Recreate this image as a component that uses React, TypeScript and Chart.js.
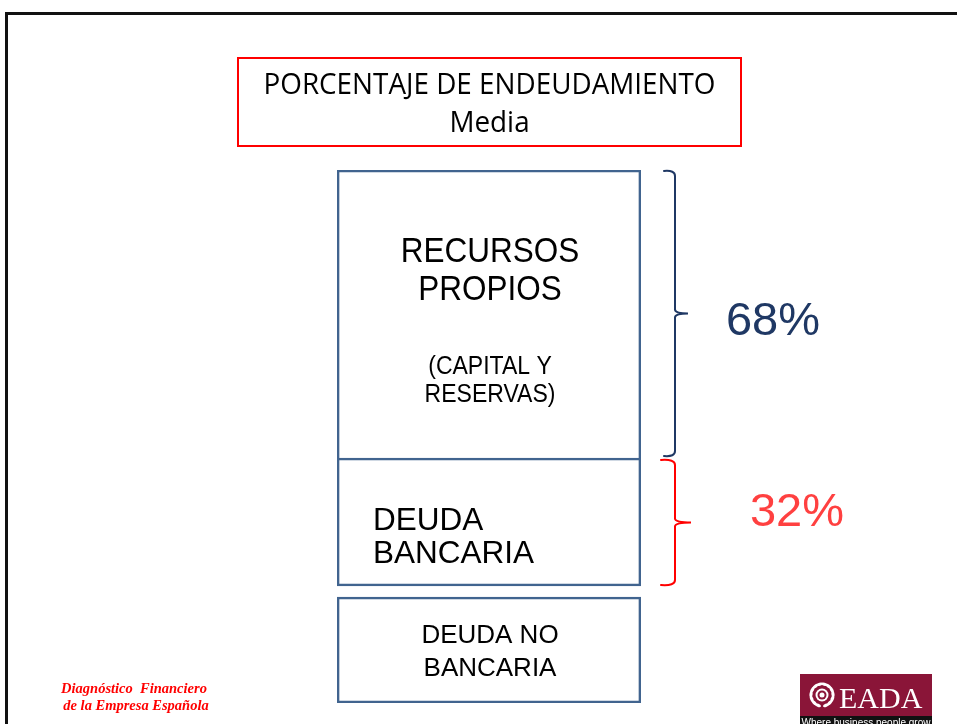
import React, { useEffect, useRef } from "react";
import { Chart, registerables } from "chart.js";

Chart.register(...registerables);

// ---- Data ----
const categories = ["Estructura financiera"];
const blockNames = ["DEUDA NO BANCARIA", "DEUDA BANCARIA", "RECURSOS PROPIOS"];
// floating block ranges in chart units (bottom, top)
const blockRanges: [number, number][] = [
  [0, 106],
  [117, 245],
  [245, 533],
];
const blockTextLines: string[][] = [
  ["DEUDA NO", "BANCARIA"],
  ["DEUDA", "BANCARIA"],
  ["RECURSOS", "PROPIOS"],
];
const recursosSubLines = ["(CAPITAL Y", "RESERVAS)"];
const shareLabels = ["", "32%", "68%"];
const titleLines = ["PORCENTAJE DE ENDEUDAMIENTO", "Media"];
const footerLines = ["Diagnóstico  Financiero", "de la Empresa Española"];
const logoText = "EADA";
const logoTagline = "Where business people grow";

const W = 957;
const H = 724;
const BOX_COLOR = "#41648F";
const NAVY = "#1F3864";
const RED = "#FF0000";
const RED_TEXT = "#FF4040";

function drawBrace(ctx: CanvasRenderingContext2D, xLine: number, top: number, bottom: number, tipX: number, nubX: number, color: string) {
  const mid = (top + bottom) / 2;
  ctx.save();
  ctx.strokeStyle = color;
  ctx.lineWidth = 2;
  ctx.lineCap = "round";
  ctx.beginPath();
  ctx.moveTo(tipX, top + 1);
  ctx.quadraticCurveTo(xLine, top, xLine, top + 6);
  ctx.lineTo(xLine, mid - 4);
  ctx.quadraticCurveTo(xLine, mid, nubX, mid);
  ctx.quadraticCurveTo(xLine, mid, xLine, mid + 4);
  ctx.lineTo(xLine, bottom - 6);
  ctx.quadraticCurveTo(xLine, bottom, tipX, bottom - 1);
  ctx.stroke();
  ctx.restore();
}

function textStretched(ctx: CanvasRenderingContext2D, s: string, x: number, y: number, sy: number) {
  ctx.save();
  ctx.translate(x, y);
  ctx.scale(1, sy);
  ctx.fillText(s, 0, 0);
  ctx.restore();
}

const slidePlugin = {
  id: "slideDecor",
  beforeDraw(chart: any) {
    const ctx: CanvasRenderingContext2D = chart.ctx;
    ctx.save();
    ctx.fillStyle = "#ffffff";
    ctx.fillRect(0, 0, chart.width, chart.height);
    // slide frame
    ctx.strokeStyle = "#111111";
    ctx.lineWidth = 3;
    ctx.strokeRect(6.5, 13.5, 1200, 1200);
    ctx.restore();
  },
  afterDatasetsDraw(chart: any) {
    const ctx: CanvasRenderingContext2D = chart.ctx;
    const els = [0, 1, 2].map((i) => chart.getDatasetMeta(i).data[0] as any);
    const cx = els[2].x;
    const left = cx - els[2].width / 2;
    const right = cx + els[2].width / 2;

    // ---- Title box ----
    ctx.save();
    ctx.strokeStyle = RED;
    ctx.lineWidth = 2;
    ctx.strokeRect(238, 58, 503, 88);
    ctx.fillStyle = "#000000";
    ctx.textAlign = "center";
    ctx.textBaseline = "middle";
    ctx.font = '30px "Open Sans"';
    const tw = ctx.measureText(titleLines[0]).width;
    const sx = 452 / tw;
    ctx.save();
    ctx.translate(489.5, 85);
    ctx.scale(sx, 1);
    ctx.fillText(titleLines[0], 0, 0);
    ctx.restore();
    ctx.save();
    ctx.translate(489.5, 123);
    ctx.scale(sx, 1);
    ctx.fillText(titleLines[1], 0, 0);
    ctx.restore();
    ctx.restore();

    // ---- Text inside blocks ----
    ctx.save();
    ctx.fillStyle = "#000000";
    ctx.textBaseline = "middle";
    // Recursos propios
    const rp = els[2];
    ctx.textAlign = "center";
    ctx.font = '31.5px "Liberation Sans", Arial, sans-serif';
    textStretched(ctx, blockTextLines[2][0], cx + 1, rp.y + 82.5, 1.1);
    textStretched(ctx, blockTextLines[2][1], cx + 1, rp.y + 120.5, 1.1);
    ctx.font = '23px "Liberation Sans", Arial, sans-serif';
    textStretched(ctx, recursosSubLines[0], cx + 1, rp.y + 197, 1.1);
    textStretched(ctx, recursosSubLines[1], cx + 1, rp.y + 225, 1.1);
    // Deuda bancaria
    const db = els[1];
    ctx.textAlign = "left";
    ctx.font = '31.5px "Liberation Sans", Arial, sans-serif';
    ctx.fillText(blockTextLines[1][0], left + 36, db.y + 63);
    ctx.fillText(blockTextLines[1][1], left + 36, db.y + 96);
    // Deuda no bancaria
    const dn = els[0];
    ctx.textAlign = "center";
    ctx.font = '26px "Liberation Sans", Arial, sans-serif';
    ctx.fillText(blockTextLines[0][0], cx + 1, dn.y + 39);
    ctx.fillText(blockTextLines[0][1], cx + 1, dn.y + 72);
    ctx.restore();

    // ---- Braces and shares ----
    drawBrace(ctx, right + 34, rp.y, rp.base - 1, right + 23, right + 47, NAVY);
    drawBrace(ctx, right + 34, db.y + 1, db.base, right + 20, right + 50, RED);
    ctx.save();
    ctx.textAlign = "center";
    ctx.textBaseline = "middle";
    ctx.font = '47px "Liberation Sans", Arial, sans-serif';
    ctx.fillStyle = NAVY;
    ctx.fillText(shareLabels[2], right + 132, (rp.y + rp.base) / 2 + 8);
    ctx.fillStyle = RED_TEXT;
    ctx.fillText(shareLabels[1], right + 156, (db.y + db.base) / 2 - 9);
    ctx.restore();
  },
  afterDraw(chart: any) {
    const ctx: CanvasRenderingContext2D = chart.ctx;
    // ---- Footer ----
    ctx.save();
    ctx.fillStyle = "#FF0000";
    ctx.textAlign = "center";
    ctx.textBaseline = "middle";
    ctx.font = 'italic bold 14.5px "Liberation Serif", serif';
    ctx.fillText(footerLines[0], 134, 689);
    ctx.fillText(footerLines[1], 136, 706);
    ctx.restore();

    // ---- Logo ----
    ctx.save();
    ctx.fillStyle = "#8A1538";
    ctx.fillRect(800, 674, 132, 42);
    ctx.fillStyle = "#111111";
    ctx.fillRect(800, 716, 132, 10);
    // emblem
    const ex = 822, ey = 695;
    ctx.fillStyle = "#ffffff";
    for (let k = 0; k < 14; k++) {
      const a = Math.PI * 0.62 + (k / 13) * Math.PI * 1.76;
      ctx.save();
      ctx.translate(ex + Math.cos(a) * 11, ey + Math.sin(a) * 11);
      ctx.rotate(a + Math.PI / 2);
      ctx.beginPath();
      ctx.ellipse(0, 0, 3.2, 1.6, 0, 0, Math.PI * 2);
      ctx.fill();
      ctx.restore();
    }
    ctx.beginPath();
    ctx.arc(ex, ey, 6.5, 0, Math.PI * 2);
    ctx.fill();
    ctx.fillStyle = "#8A1538";
    ctx.beginPath();
    ctx.arc(ex, ey, 4.5, 0, Math.PI * 2);
    ctx.fill();
    ctx.fillStyle = "#ffffff";
    ctx.beginPath();
    ctx.arc(ex, ey, 2.5, 0, Math.PI * 2);
    ctx.fill();
    ctx.fillStyle = "#ffffff";
    ctx.textAlign = "left";
    ctx.textBaseline = "alphabetic";
    ctx.font = '30px "Liberation Serif", serif';
    ctx.fillText(logoText, 839, 708);
    ctx.font = '10px "Liberation Sans", sans-serif';
    ctx.textAlign = "center";
    ctx.fillText(logoTagline, 866, 726);
    ctx.restore();
  },
};

export default function App() {
  const canvasRef = useRef<HTMLCanvasElement | null>(null);

  useEffect(() => {
    if (!canvasRef.current) return;
    const chart = new Chart(canvasRef.current, {
      type: "bar",
      data: {
        labels: categories,
        datasets: blockRanges.map((r, i) => ({
          label: blockNames[i],
          data: [r] as any,
          backgroundColor: "rgba(255,255,255,0)",
          borderColor: BOX_COLOR,
          borderWidth: 2,
          borderSkipped: i === 2 ? "bottom" : false,
          barPercentage: 1,
          categoryPercentage: 1,
        })) as any,
      },
      options: {
        responsive: false,
        animation: false,
        devicePixelRatio: 1,
        layout: { padding: { left: 337, right: 316, top: 170, bottom: 21 } },
        plugins: {
          legend: { display: false },
          tooltip: { enabled: false },
          title: { display: false },
        },
        scales: {
          x: { display: false, stacked: true },
          y: { display: false, stacked: false, min: 0, max: 533 },
        },
      },
      plugins: [slidePlugin],
    });
    return () => chart.destroy();
  }, []);

  return (
    <div style={{ position: "fixed", left: 0, top: 0, width: W, height: H, background: "#fff" }}>
      <canvas ref={canvasRef} width={W} height={H} style={{ width: W, height: H, display: "block" }} />
    </div>
  );
}
